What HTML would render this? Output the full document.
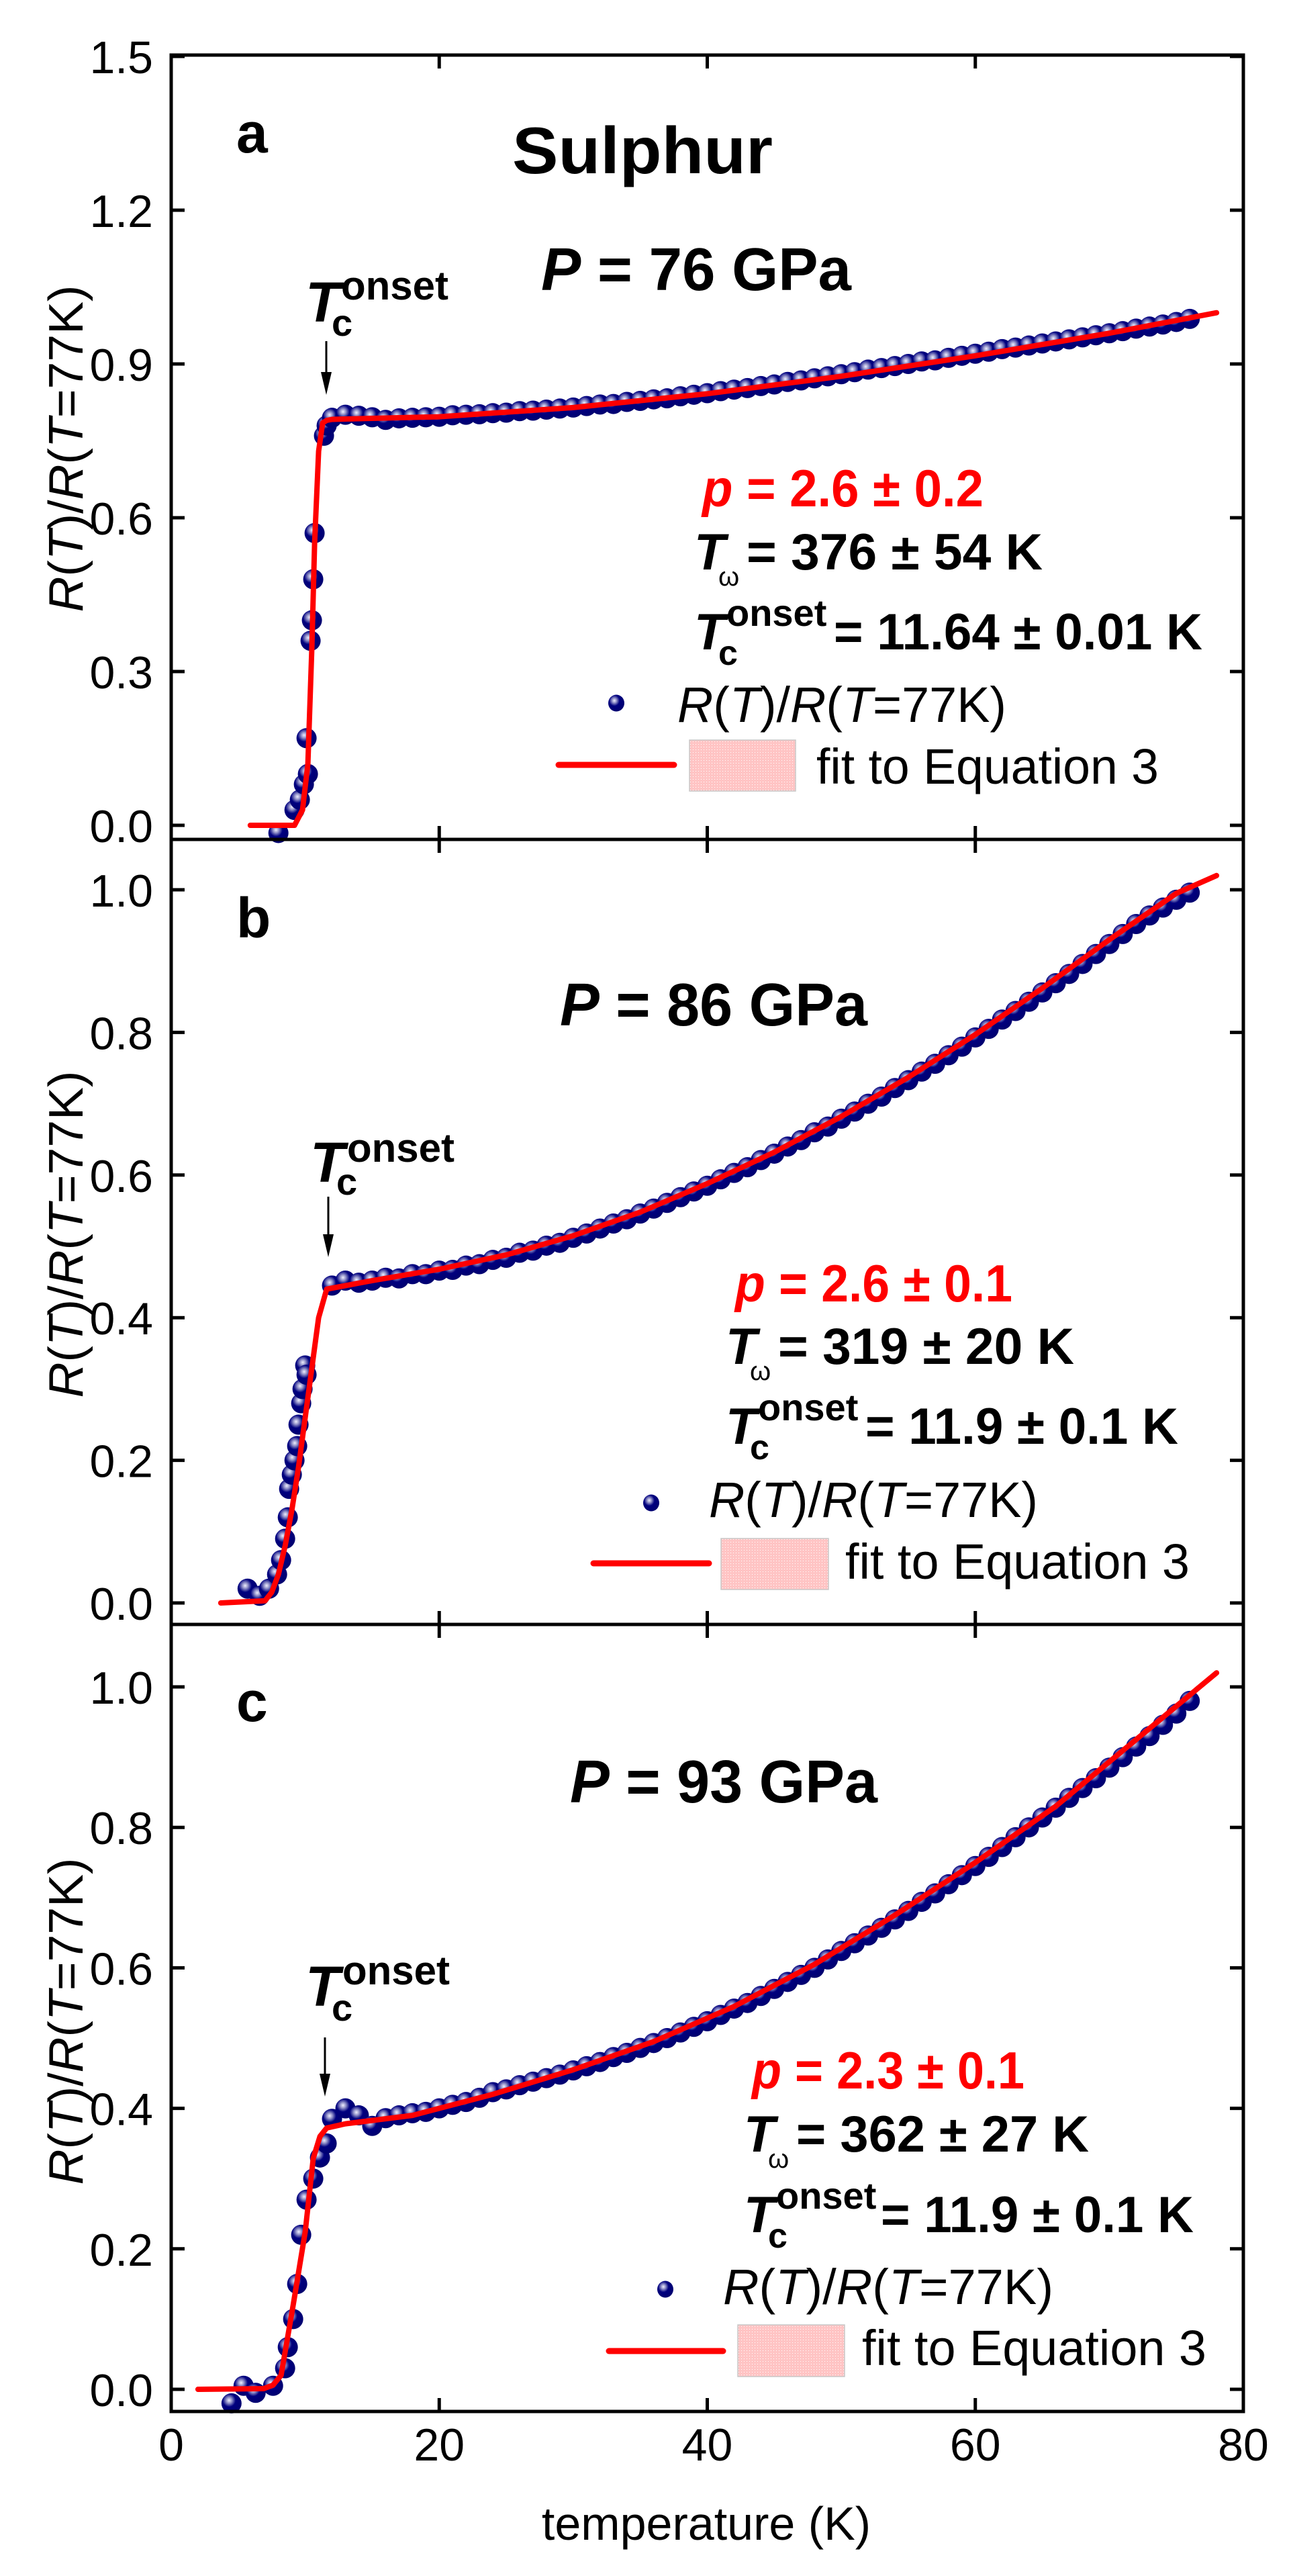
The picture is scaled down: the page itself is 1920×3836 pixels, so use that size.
<!DOCTYPE html>
<html><head><meta charset="utf-8"><title>Sulphur R(T)</title>
<style>
html,body{margin:0;padding:0;background:#fff;}
svg{display:block;}
text{font-family:"Liberation Sans",sans-serif;}
.tick{font-size:68px;fill:#000;}
.b{font-weight:bold;}
</style></head>
<body>
<svg id="chart" width="1920" height="3836" viewBox="0 0 1920 3836" xmlns="http://www.w3.org/2000/svg">
<defs>
<radialGradient id="ball" cx="0.38" cy="0.35" r="0.65">
<stop offset="0" stop-color="#f0f0ff"/>
<stop offset="0.22" stop-color="#9090c8"/>
<stop offset="0.5" stop-color="#00007f"/>
<stop offset="1" stop-color="#000070"/>
</radialGradient>
<pattern id="pinkpat" width="4" height="4" patternUnits="userSpaceOnUse">
<rect width="4" height="4" fill="#ffc4c4"/><rect width="1" height="1" fill="#fff"/>
</pattern>
</defs>
<g id="marks"></g>
<g id="axes"></g>

<!-- Panel a texts -->
<text x="352" y="227" class="b" font-size="84">a</text>
<text x="763" y="258" class="b" font-size="98" textLength="388" lengthAdjust="spacingAndGlyphs">Sulphur</text>
<text x="806" y="432" class="b" font-size="90" textLength="462" lengthAdjust="spacingAndGlyphs"><tspan font-style="italic">P</tspan> = 76 GPa</text>
<text class="b"><tspan x="455" y="479" font-size="84" font-style="italic">T</tspan><tspan x="508" y="446" font-size="60">onset</tspan><tspan x="494" y="500" font-size="56">c</tspan></text>
<text x="1046" y="754" class="b" font-size="78" fill="#ff0000" textLength="419" lengthAdjust="spacingAndGlyphs"><tspan font-style="italic">p</tspan> = 2.6 ± 0.2</text>
<text class="b" font-size="76"><tspan x="1034" y="848" font-style="italic">T</tspan><tspan x="1070" y="872" font-size="40" font-weight="normal">ω</tspan><tspan x="1112" y="848" textLength="441" lengthAdjust="spacingAndGlyphs">= 376 ± 54 K</tspan></text>
<text class="b" font-size="76"><tspan x="1034" y="967" font-style="italic">T</tspan><tspan x="1082" y="932" font-size="56">onset</tspan><tspan x="1070" y="990" font-size="52">c</tspan><tspan x="1242" y="967" textLength="549" lengthAdjust="spacingAndGlyphs">= 11.64 ± 0.01 K</tspan></text>
<text x="1009" y="1075" font-size="74" textLength="490" lengthAdjust="spacingAndGlyphs"><tspan font-style="italic">R</tspan>(<tspan font-style="italic">T</tspan>)/<tspan font-style="italic">R</tspan>(<tspan font-style="italic">T</tspan>=77K)</text>
<text x="1216" y="1167" font-size="74" textLength="510" lengthAdjust="spacingAndGlyphs">fit to Equation 3</text>

<!-- Panel b texts -->
<text x="352" y="1396" class="b" font-size="84">b</text>
<text x="834" y="1527" class="b" font-size="90" textLength="458" lengthAdjust="spacingAndGlyphs"><tspan font-style="italic">P</tspan> = 86 GPa</text>
<text class="b"><tspan x="462" y="1760" font-size="84" font-style="italic">T</tspan><tspan x="517" y="1730" font-size="60">onset</tspan><tspan x="501" y="1779" font-size="56">c</tspan></text>
<text x="1095" y="1938" class="b" font-size="78" fill="#ff0000" textLength="413" lengthAdjust="spacingAndGlyphs"><tspan font-style="italic">p</tspan> = 2.6 ± 0.1</text>
<text class="b" font-size="76"><tspan x="1081" y="2031" font-style="italic">T</tspan><tspan x="1117" y="2055" font-size="40" font-weight="normal">ω</tspan><tspan x="1159" y="2031" textLength="441" lengthAdjust="spacingAndGlyphs">= 319 ± 20 K</tspan></text>
<text class="b" font-size="76"><tspan x="1081" y="2150" font-style="italic">T</tspan><tspan x="1129" y="2115" font-size="56">onset</tspan><tspan x="1117" y="2173" font-size="52">c</tspan><tspan x="1289" y="2150" textLength="466" lengthAdjust="spacingAndGlyphs">= 11.9 ± 0.1 K</tspan></text>
<text x="1056" y="2259" font-size="74" textLength="490" lengthAdjust="spacingAndGlyphs"><tspan font-style="italic">R</tspan>(<tspan font-style="italic">T</tspan>)/<tspan font-style="italic">R</tspan>(<tspan font-style="italic">T</tspan>=77K)</text>
<text x="1259" y="2351" font-size="74" textLength="513" lengthAdjust="spacingAndGlyphs">fit to Equation 3</text>

<!-- Panel c texts -->
<text x="352" y="2563" class="b" font-size="84">c</text>
<text x="849" y="2684" class="b" font-size="90" textLength="458" lengthAdjust="spacingAndGlyphs"><tspan font-style="italic">P</tspan> = 93 GPa</text>
<text class="b"><tspan x="455" y="2987" font-size="84" font-style="italic">T</tspan><tspan x="510" y="2955" font-size="60">onset</tspan><tspan x="494" y="3009" font-size="56">c</tspan></text>
<text x="1120" y="3110" class="b" font-size="78" fill="#ff0000" textLength="406" lengthAdjust="spacingAndGlyphs"><tspan font-style="italic">p</tspan> = 2.3 ± 0.1</text>
<text class="b" font-size="76"><tspan x="1108" y="3204" font-style="italic">T</tspan><tspan x="1144" y="3228" font-size="40" font-weight="normal">ω</tspan><tspan x="1186" y="3204" textLength="436" lengthAdjust="spacingAndGlyphs">= 362 ± 27 K</tspan></text>
<text class="b" font-size="76"><tspan x="1108" y="3324" font-style="italic">T</tspan><tspan x="1156" y="3289" font-size="56">onset</tspan><tspan x="1144" y="3347" font-size="52">c</tspan><tspan x="1312" y="3324" textLength="466" lengthAdjust="spacingAndGlyphs">= 11.9 ± 0.1 K</tspan></text>
<text x="1077" y="3431" font-size="74" textLength="492" lengthAdjust="spacingAndGlyphs"><tspan font-style="italic">R</tspan>(<tspan font-style="italic">T</tspan>)/<tspan font-style="italic">R</tspan>(<tspan font-style="italic">T</tspan>=77K)</text>
<text x="1284" y="3522" font-size="74" textLength="513" lengthAdjust="spacingAndGlyphs">fit to Equation 3</text>

<!-- x-axis title -->
<text x="1052" y="3782" font-size="70" text-anchor="middle">temperature (K)</text>
</svg>
<script>
// ---------- data ----------
const xTicks = [0, 20, 40, 60, 80];
const yTicksA = [0.0, 0.3, 0.6, 0.9, 1.2, 1.5];
const yTicksBC = [0.0, 0.2, 0.4, 0.6, 0.8, 1.0];
const yTickLabelsA = ["0.0", "0.3", "0.6", "0.9", "1.2", "1.5"];
const yTickLabelsBC = ["0.0", "0.2", "0.4", "0.6", "0.8", "1.0"];

// Panel a (76 GPa)
const tTransA = [8.0, 9.2, 9.6, 9.9, 10.1, 10.2, 10.4, 10.5, 10.6, 10.7, 11.4, 11.6];
const rTransA = [-0.015, 0.03, 0.05, 0.08, 0.17, 0.10, 0.36, 0.40, 0.48, 0.57, 0.76, 0.78];
const tBandA = [12,13,14,15,16,17,18,19,20,21,22,23,24,25,26,27,28,29,30,31,32,33,34,35,36,37,38,39,40,41,42,43,44,45,46,47,48,49,50,51,52,53,54,55,56,57,58,59,60,61,62,63,64,65,66,67,68,69,70,71,72,73,74,75,76];
const rBandA = [0.795,0.801,0.799,0.796,0.791,0.794,0.795,0.796,0.797,0.800,0.801,0.802,0.804,0.805,0.808,0.809,0.811,0.813,0.815,0.818,0.821,0.822,0.826,0.828,0.831,0.833,0.837,0.840,0.843,0.847,0.850,0.853,0.857,0.860,0.865,0.868,0.872,0.876,0.880,0.884,0.889,0.892,0.896,0.900,0.905,0.907,0.912,0.916,0.920,0.924,0.929,0.932,0.936,0.940,0.944,0.948,0.952,0.956,0.960,0.964,0.969,0.973,0.977,0.982,0.988];
const fitTA = [5.9, 9.2, 9.8, 10.2, 10.5, 10.7, 11.0, 11.3, 11.6, 12, 20, 30, 40, 50, 60, 70, 78];
const fitRA = [0, 0, 0.03, 0.12, 0.35, 0.55, 0.73, 0.785, 0.79, 0.792, 0.797, 0.815, 0.842, 0.876, 0.916, 0.96, 1.0];

// Panel b (86 GPa)
const tTransB = [5.7, 6.6, 7.3, 7.9, 8.2, 8.5, 8.7, 8.8, 9.0, 9.2, 9.4, 9.5, 9.7, 9.8, 10.0, 10.1];
const rTransB = [0.02, 0.01, 0.02, 0.04, 0.06, 0.09, 0.12, 0.16, 0.18, 0.20, 0.22, 0.25, 0.28, 0.30, 0.333, 0.32];
const tBandB = [12,13,14,15,16,17,18,19,20,21,22,23,24,25,26,27,28,29,30,31,32,33,34,35,36,37,38,39,40,41,42,43,44,45,46,47,48,49,50,51,52,53,54,55,56,57,58,59,60,61,62,63,64,65,66,67,68,69,70,71,72,73,74,75,76];
const rBandB = [0.445,0.452,0.449,0.452,0.456,0.455,0.461,0.461,0.466,0.467,0.473,0.475,0.481,0.484,0.491,0.494,0.501,0.505,0.512,0.518,0.525,0.532,0.538,0.546,0.553,0.561,0.569,0.577,0.585,0.594,0.603,0.611,0.621,0.630,0.640,0.649,0.660,0.668,0.679,0.689,0.700,0.710,0.722,0.733,0.745,0.756,0.768,0.780,0.793,0.805,0.818,0.830,0.843,0.856,0.869,0.882,0.896,0.910,0.924,0.938,0.952,0.964,0.975,0.986,0.996];
const fitTB = [3.7, 7.0, 7.5, 8, 8.5, 9, 9.5, 10, 10.5, 11, 11.6, 15, 20, 25, 30, 35, 40, 45, 50, 55, 60, 65, 70, 75, 78];
const fitRB = [0, 0.003, 0.015, 0.04, 0.08, 0.13, 0.19, 0.26, 0.33, 0.40, 0.44, 0.452, 0.468, 0.488, 0.515, 0.548, 0.588, 0.632, 0.682, 0.737, 0.797, 0.862, 0.93, 0.995, 1.02];

// Panel c (93 GPa)
const tTransC = [4.5, 5.4, 6.3, 7.6, 8.5, 8.7, 9.1, 9.4, 9.7, 10.1, 10.6, 11.1, 11.6];
const rTransC = [-0.02, 0.005, -0.005, 0.005, 0.03, 0.06, 0.10, 0.15, 0.22, 0.27, 0.30, 0.33, 0.35];
const tBandC = [12,13,14,15,16,17,18,19,20,21,22,23,24,25,26,27,28,29,30,31,32,33,34,35,36,37,38,39,40,41,42,43,44,45,46,47,48,49,50,51,52,53,54,55,56,57,58,59,60,61,62,63,64,65,66,67,68,69,70,71,72,73,74,75,76];
const rBandC = [0.385,0.400,0.390,0.375,0.386,0.390,0.393,0.395,0.400,0.405,0.409,0.415,0.423,0.427,0.433,0.438,0.443,0.448,0.454,0.460,0.466,0.473,0.479,0.486,0.493,0.500,0.508,0.516,0.524,0.533,0.542,0.550,0.560,0.570,0.580,0.590,0.600,0.612,0.624,0.635,0.646,0.657,0.669,0.681,0.694,0.706,0.719,0.732,0.745,0.758,0.772,0.786,0.800,0.814,0.828,0.842,0.856,0.870,0.885,0.900,0.915,0.930,0.946,0.962,0.980];
const fitTC = [2.0, 6.9, 7.6, 8.2, 9.1, 10.0, 10.6, 11.1, 11.6, 13, 18, 24, 30, 36, 42, 48, 54, 60, 66, 72, 78];
const fitRC = [0, 0.001, 0.006, 0.02, 0.12, 0.224, 0.329, 0.36, 0.372, 0.378, 0.39, 0.42, 0.455, 0.495, 0.545, 0.605, 0.675, 0.75, 0.83, 0.925, 1.02];

// ---------- layout ----------
const X0 = 255, X1 = 1852;
const xScale = T => X0 + (T - 0) * (X1 - X0) / 80;
const panels = [
  {id:'a', top:82, bottom:1250, y0:1229, ppu:763.3, ticks:yTicksA, labels:yTickLabelsA, tT:tTransA, rT:rTransA, tB:tBandA, rB:rBandA, fT:fitTA, fR:fitRA,
   arrow:[486,508,588], leg:{dot:[918,1047], line:[832,1004,1139], box:[1027,1102,158,76]}, ytitleY:668},
  {id:'b', top:1250, bottom:2419, y0:2387, ppu:1062, ticks:yTicksBC, labels:yTickLabelsBC, tT:tTransB, rT:rTransB, tB:tBandB, rB:rBandB, fT:fitTB, fR:fitRB,
   arrow:[489,1782,1872], leg:{dot:[970,2238], line:[884,1056,2328], box:[1074,2291,160,76]}, ytitleY:1838},
  {id:'c', top:2419, bottom:3591, y0:3558, ppu:1046, ticks:yTicksBC, labels:yTickLabelsBC, tT:tTransC, rT:rTransC, tB:tBandC, rB:rBandC, fT:fitTC, fR:fitRC,
   arrow:[484,3034,3122], leg:{dot:[991,3409], line:[907,1077,3501], box:[1099,3462,159,77]}, ytitleY:3010}
];
const NS = 'http://www.w3.org/2000/svg';
const marks = document.getElementById('marks');
const axes = document.getElementById('axes');
function mk(tag, attrs, parent) {
  const e = document.createElementNS(NS, tag);
  for (const k in attrs) e.setAttribute(k, attrs[k]);
  parent.appendChild(e);
  return e;
}

panels.forEach(p => {
  const yS = v => p.y0 - v * p.ppu;
  const g = mk('g', {}, marks);
  
  
  const allT = p.tT.concat(p.tB), allR = p.rT.concat(p.rB);
  for (let i = 0; i < allT.length; i++) {
    const c = mk('circle', {cx: xScale(allT[i]), cy: yS(allR[i]), r: 15, fill: 'url(#ball)'}, g);
    
    
  }
  const pts = p.fT.map((t, i) => xScale(t).toFixed(1) + ',' + yS(p.fR[i]).toFixed(1)).join(' ');
  const fl = mk('polyline', {points: pts, fill: 'none', stroke: '#ff0000', 'stroke-width': 8, 'stroke-linejoin': 'round', 'stroke-linecap': 'round'}, g);
  
  

  const fr = mk('rect', {x: X0, y: p.top, width: X1 - X0, height: p.bottom - p.top, fill: 'none', stroke: '#000', 'stroke-width': 5}, axes);
  
  
  p.ticks.forEach((v, i) => {
    const y = yS(v);
    mk('line', {x1: X0, x2: X0 + 20, y1: y, y2: y, stroke: '#000', 'stroke-width': 5}, axes);
    mk('line', {x1: X1, x2: X1 - 20, y1: y, y2: y, stroke: '#000', 'stroke-width': 5}, axes);
    const t = mk('text', {x: 228, y: y + 25, 'text-anchor': 'end', class: 'tick'}, axes);
    t.textContent = p.labels[i];
    
    
  });
  xTicks.forEach(v => {
    const x = xScale(v);
    mk('line', {x1: x, x2: x, y1: p.top, y2: p.top + 20, stroke: '#000', 'stroke-width': 5}, axes);
    mk('line', {x1: x, x2: x, y1: p.bottom, y2: p.bottom - 20, stroke: '#000', 'stroke-width': 5}, axes);
  });
  const [ax, ay1, ay2] = p.arrow;
  const ar = mk('g', {}, axes);
  
  
  mk('line', {x1: ax, x2: ax, y1: ay1, y2: ay2 - 20, stroke: '#000', 'stroke-width': 3}, ar);
  mk('polygon', {points: (ax - 8) + ',' + (ay2 - 34) + ' ' + (ax + 8) + ',' + (ay2 - 34) + ' ' + ax + ',' + ay2, fill: '#000'}, ar);
  const lg = mk('g', {}, axes);
  
  
  mk('ellipse', {cx: p.leg.dot[0], cy: p.leg.dot[1], rx: 12, ry: 12.5, fill: 'url(#ball)'}, lg);
  mk('line', {x1: p.leg.line[0], x2: p.leg.line[1], y1: p.leg.line[2], y2: p.leg.line[2], stroke: '#ff0000', 'stroke-width': 9, 'stroke-linecap': 'round'}, lg);
  const b = p.leg.box;
  mk('rect', {x: b[0], y: b[1], width: b[2], height: b[3], fill: 'url(#pinkpat)', stroke: '#c8c8c8', 'stroke-width': 1.5}, lg);
  const yt = mk('text', {x: 0, y: 0, 'font-size': 72, 'text-anchor': 'middle', transform: 'translate(123,' + p.ytitleY + ') rotate(-90)', textLength: 487, lengthAdjust: 'spacingAndGlyphs'}, axes);
  
  
  yt.innerHTML = '<tspan font-style="italic">R</tspan>(<tspan font-style="italic">T</tspan>)/<tspan font-style="italic">R</tspan>(<tspan font-style="italic">T</tspan>=77K)';
});
xTicks.forEach(v => {
  const t = mk('text', {x: xScale(v), y: 3664, 'text-anchor': 'middle', class: 'tick'}, axes);
  t.textContent = String(v);
  
  
});
</script>
</body></html>
